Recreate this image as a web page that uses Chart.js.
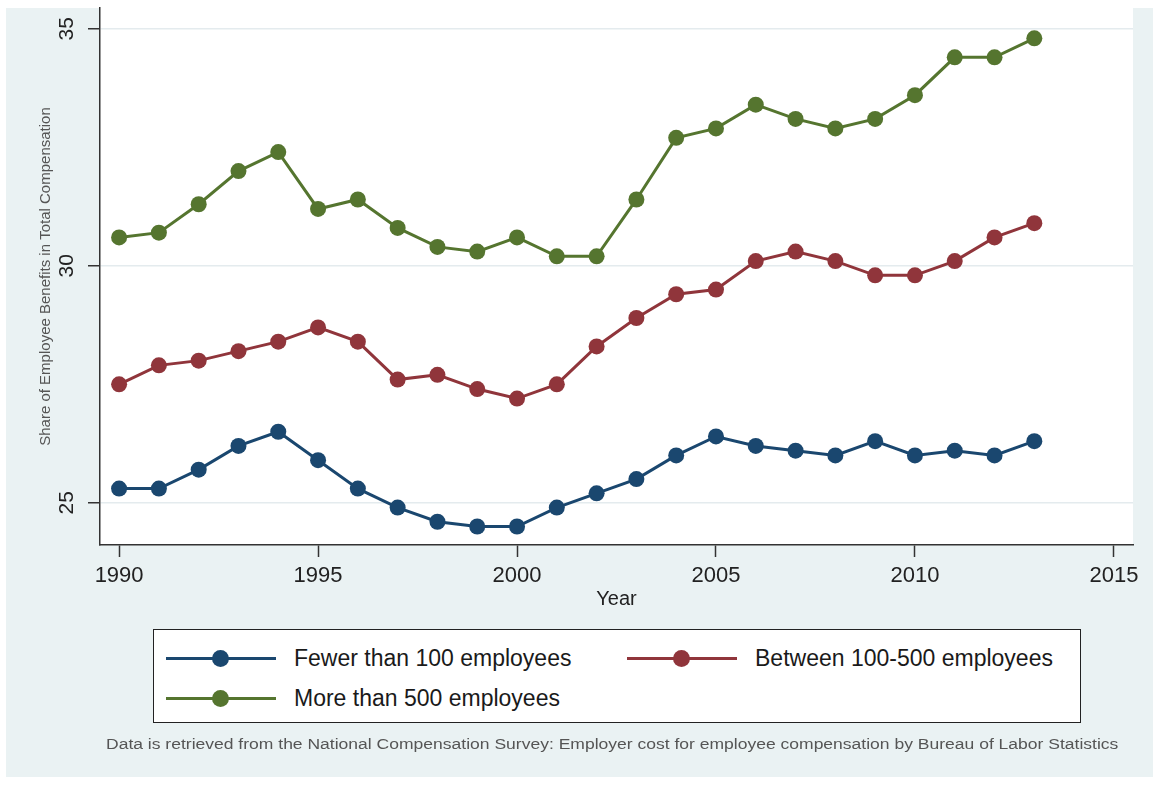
<!DOCTYPE html>
<html>
<head>
<meta charset="utf-8">
<script src="https://cdn.jsdelivr.net/npm/chart.js@4.4.1/dist/chart.umd.min.js"></script>
<style>
  body { margin: 0; background: #fff; }
  #wrap { position: relative; width: 1153px; height: 787px; }
  #legend {
    position: absolute; left: 153px; top: 629px; width: 926px; height: 92px;
    border: 1.5px solid #222; background: #fff;
    font-family: "Liberation Sans", Arial, sans-serif; font-size: 23px; color: #1a1a1a;
  }
  .item { position: absolute; height: 24px; line-height: 24px; white-space: nowrap; }
  .sample { position: absolute; left: 0; top: 0; width: 110px; height: 24px; }
  .sample .ln { position: absolute; left: 0; right: 0; top: 10.5px; height: 3px; }
  .sample .dot { position: absolute; left: 46px; top: 3.5px; width: 17px; height: 17px; border-radius: 50%; }
  .item .txt { position: absolute; left: 128px; top: 0; }
  #note {
    position: absolute; left: 106px; top: 736px; white-space: nowrap;
    font-family: "Liberation Sans", Arial, sans-serif; font-size: 14px; color: #555;
    transform-origin: left center;
  }
</style>
</head>
<body>
<div id="wrap">
  <canvas id="chart" width="1153" height="787"></canvas>
  <div id="legend"></div>
  <div id="note">Data is retrieved from the National Compensation Survey: Employer cost for employee compensation by Bureau of Labor Statistics</div>
</div>
<script>
const years = [1990, 1991, 1992, 1993, 1994, 1995, 1996, 1997, 1998, 1999, 2000, 2001,
               2002, 2003, 2004, 2005, 2006, 2007, 2008, 2009, 2010, 2011, 2012, 2013];
const fewerThan100 = [25.3, 25.3, 25.7, 26.2, 26.5, 25.9, 25.3, 24.9, 24.6, 24.5, 24.5, 24.9,
                      25.2, 25.5, 26.0, 26.4, 26.2, 26.1, 26.0, 26.3, 26.0, 26.1, 26.0, 26.3];
const between100to500 = [27.5, 27.9, 28.0, 28.2, 28.4, 28.7, 28.4, 27.6, 27.7, 27.4, 27.2, 27.5,
                         28.3, 28.9, 29.4, 29.5, 30.1, 30.3, 30.1, 29.8, 29.8, 30.1, 30.6, 30.9];
const moreThan500 = [30.6, 30.7, 31.3, 32.0, 32.4, 31.2, 31.4, 30.8, 30.4, 30.3, 30.6, 30.2,
                     30.2, 31.4, 32.7, 32.9, 33.4, 33.1, 32.9, 33.1, 33.6, 34.4, 34.4, 34.8];
const seriesNames = ["Fewer than 100 employees", "Between 100-500 employees", "More than 500 employees"];
const seriesColors = ["#1a476f", "#90353b", "#55752f"];
const yTicks = [25, 30, 35];
const xTicks = [1990, 1995, 2000, 2005, 2010, 2015];

const FONT = '"Liberation Sans", Arial, sans-serif';

const toPoints = vals => years.map((yr, i) => ({ x: yr, y: vals[i] }));

// stata style backgrounds: light graph region, white plot region
const backdrop = {
  id: "backdrop",
  beforeDraw(chart) {
    const { ctx, chartArea: a } = chart;
    ctx.save();
    ctx.fillStyle = "#fff";
    ctx.fillRect(0, 0, chart.width, chart.height);
    ctx.fillStyle = "#eaf2f3";
    ctx.fillRect(6, 8, chart.width - 6, 769);
    ctx.fillStyle = "#fff";
    ctx.fillRect(a.left, a.top, a.right - a.left, a.bottom - a.top);
    ctx.restore();
  }
};

// y tick labels are rotated like in stata
const yLabels = {
  id: "yLabels",
  afterDraw(chart) {
    const s = chart.scales.y, ctx = chart.ctx;
    ctx.save();
    ctx.font = "21px " + FONT;
    ctx.fillStyle = "#222";
    ctx.textAlign = "center";
    ctx.textBaseline = "middle";
    s.ticks.forEach(t => {
      ctx.save();
      ctx.translate(s.right - 33, s.getPixelForValue(t.value));
      ctx.rotate(-Math.PI / 2);
      ctx.fillText(t.label, 0, 0);
      ctx.restore();
    });
    ctx.restore();
  }
};

const chart = new Chart(document.getElementById("chart"), {
  type: "line",
  data: {
    datasets: [fewerThan100, between100to500, moreThan500].map((vals, i) => ({
      label: seriesNames[i],
      data: toPoints(vals),
      borderColor: seriesColors[i],
      backgroundColor: seriesColors[i],
      pointBackgroundColor: seriesColors[i],
      borderWidth: 3,
      pointRadius: 8,
      pointBorderWidth: 0,
      tension: 0,
    })),
  },
  options: {
    responsive: false,
    animation: false,
    layout: { padding: { left: 0, top: 8, right: 20, bottom: 176 } },
    plugins: {
      legend: { display: false },
      tooltip: { enabled: false },
    },
    scales: {
      x: {
        type: "linear",
        min: 1989.52,
        max: 2015.48,
        afterBuildTicks: s => { s.ticks = xTicks.map(v => ({ value: v })); },
        afterFit: s => { s.height = 66; },
        ticks: {
          font: { family: FONT, size: 22 },
          color: "#222",
          padding: 6,
          maxRotation: 0,
          callback: v => String(v),
        },
        grid: { drawOnChartArea: false, tickColor: "#333", tickLength: 12, tickWidth: 1.5 },
        border: { color: "#333", width: 1.5 },
        title: {
          display: true,
          text: "Year",
          font: { family: FONT, size: 20 },
          color: "#222",
          padding: { top: 0, bottom: 0 },
        },
      },
      y: {
        min: 24.11,
        max: 35.44,
        afterBuildTicks: s => { s.ticks = yTicks.map(v => ({ value: v })); },
        afterFit: s => { s.width = 100; },
        ticks: { display: false, callback: v => String(v) },
        grid: { color: "#e4ebee", lineWidth: 1.5, tickColor: "#333", tickLength: 12, tickWidth: 1.5 },
        border: { color: "#333", width: 1.5 },
        title: {
          display: true,
          text: "Share of Employee Benefits in Total Compensation",
          font: { family: FONT, size: 15 },
          color: "#555",
          padding: { top: 37, bottom: 0 },
        },
      },
    },
  },
  plugins: [backdrop, yLabels],
});

// legend box built from the chart datasets, two columns like stata
const legendSpots = [
  { left: 12, top: 16 },
  { left: 473, top: 16 },
  { left: 12, top: 56 },
];
const legendBox = document.getElementById("legend");
chart.data.datasets.forEach((ds, i) => {
  const item = document.createElement("div");
  item.className = "item";
  item.style.left = legendSpots[i].left + "px";
  item.style.top = legendSpots[i].top + "px";
  item.innerHTML =
    '<div class="sample"><div class="ln" style="background:' + ds.borderColor + '"></div>' +
    '<div class="dot" style="background:' + ds.borderColor + '"></div></div>' +
    '<span class="txt">' + ds.label + "</span>";
  legendBox.appendChild(item);
});

// stretch the note to the width it has in the reference
const note = document.getElementById("note");
note.style.transform = "scaleX(" + (1012 / note.offsetWidth) + ")";
</script>
</body>
</html>
